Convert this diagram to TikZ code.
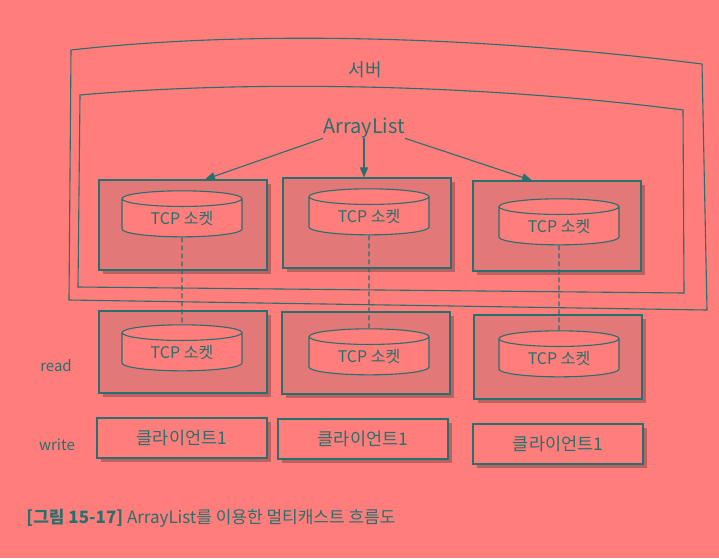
\documentclass[tikz,border=0pt]{standalone}
\usepackage{fontspec}
\setmainfont{Noto Sans CJK KR}
\usetikzlibrary{positioning,arrows.meta,shapes.geometric,shadows}
\definecolor{bgpink}{HTML}{FF7D7B}
\definecolor{ink}{HTML}{28706E}
\definecolor{boxfill}{HTML}{E27878}
\definecolor{shade}{HTML}{A05658}
\tikzset{
  frame/.style={draw=ink,line width=1.1pt},
  panel/.style={frame,fill=boxfill,minimum width=168pt,minimum height=90pt,
    drop shadow={shadow xshift=4pt,shadow yshift=-4pt,fill=shade,opacity=0.7}},
  client/.style={frame,fill=bgpink,minimum width=170pt,minimum height=40pt,
    font=\fontsize{17.5}{18}\selectfont,text=ink,
    drop shadow={shadow xshift=4pt,shadow yshift=-4pt,fill=shade,opacity=0.7}},
  sock/.style={frame,fill=bgpink,cylinder,shape border rotate=90,aspect=0.25,
    minimum width=120pt,minimum height=46pt,inner sep=0pt,
    font=\fontsize{16}{16}\selectfont,text=ink},
  lbl/.style={text=ink,inner sep=0pt},
  arr/.style={draw=ink,line width=1.1pt,-{Triangle[length=10pt,width=8pt]}},
  link/.style={draw=ink,line width=1.1pt,dash pattern=on 5pt off 3pt},
}
\begin{document}
\begin{tikzpicture}[x=1pt,y=-1pt]
  \fill[bgpink] (0,0) rectangle (719,558);
  \useasboundingbox (0,0) rectangle (719,558);
  % server frame (outer) and ArrayList frame (inner)
  \draw[frame] (71,50) .. controls (250,30) and (480,36) .. (702,64)
    -- (707,310) -- (69,300) -- cycle;
  \draw[frame] (80,95) .. controls (250,80) and (480,84) .. (683,110)
    -- (684,293) -- (78,287) -- cycle;
  \node[lbl,font=\fontsize{18}{18}\selectfont] (srv) at (365,70) {서버};
  \node[lbl,font=\fontsize{20}{20}\selectfont] (al) at (364,128) {ArrayList};
  % server side sockets
  \node[panel] (p1) at (183,225) {};
  \node[panel] (p2) at (367,223) {};
  \node[panel] (p3) at (557,226) {};
  \node[sock] (s1) at (182,218) {TCP 소켓};
  \node[sock] (s2) at (369,216) {TCP 소켓};
  \node[sock] (s3) at (559,226) {TCP 소켓};
  \draw[arr] (al.south west) -- ([xshift=22pt]p1.north);
  \draw[arr] (al.south) -- (al.south |- p2.north);
  \draw[arr] (al.south east) -- ([xshift=-25pt]p3.north);
  % client side sockets
  \node[panel,minimum height=82pt] (q1) at (183,352) {};
  \node[panel,minimum height=82pt] (q2) at (366,353) {};
  \node[panel,minimum height=84pt] (q3) at (558,357) {};
  \node[sock] (t1) at (182,352) {TCP 소켓};
  \node[sock] (t2) at (369,356) {TCP 소켓};
  \node[sock] (t3) at (559,358) {TCP 소켓};
  \draw[link] (s1.south) -- (t1.north);
  \draw[link] (s2.south) -- (t2.north);
  \draw[link] (s3.south) -- (t3.north);
  % clients
  \node[client] (c1) at (182,438) {클라이언트1};
  \node[client] (c2) at (363,439) {클라이언트1};
  \node[client] (c3) at (558,444) {클라이언트1};
  \node[lbl,font=\fontsize{15}{15}\selectfont] (rd) at (56,366) {read};
  \node[lbl,font=\fontsize{15}{15}\selectfont] (wr) at (57,445) {write};
  \node[lbl,font=\fontsize{17}{17}\selectfont] (cap) at (211,518)
    {\textbf{[그림 15-17]} ArrayList를 이용한 멀티캐스트 흐름도};
\end{tikzpicture}
\end{document}
